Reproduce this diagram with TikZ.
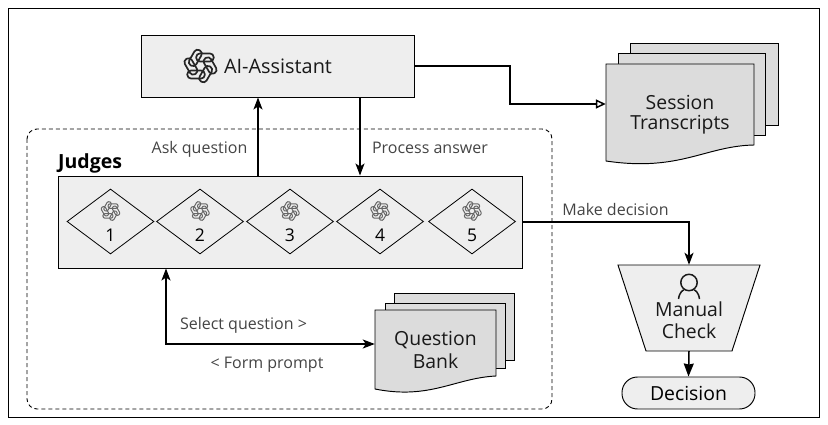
\documentclass[tikz,border=0pt]{standalone}
\usepackage{fontspec}
\setmainfont{Open Sans}
\usetikzlibrary{arrows.meta,shapes.geometric,calc}
\definecolor{boxgray}{HTML}{EEEEEE}
\definecolor{docgray}{HTML}{DCDCDC}
\definecolor{labelgray}{HTML}{444444}
\tikzset{
  boxn/.style={draw=black,line width=.95pt,fill=boxgray,inner sep=0pt},
  judge/.style={diamond,draw=black,line width=.8pt,fill=boxgray,inner sep=0pt,minimum width=87pt,minimum height=65pt,aspect=1.34},
  sheet/.style={draw=black,line width=.95pt,fill=docgray},
  arr/.style={draw=black,line width=1.5pt,-{Stealth[length=12pt,width=9pt,inset=3pt]}},
  solidarr/.style={draw=black,line width=1.5pt,-{Stealth[length=13pt,width=10pt,inset=1pt]}},
  biarr/.style={draw=black,line width=1.5pt,{Stealth[length=12pt,width=9pt,inset=3pt]}-{Stealth[length=12pt,width=9pt,inset=3pt]}},
  openarr/.style={draw=black,line width=1.5pt,-{Triangle[open,length=10pt,width=9pt,fill=white]}},
  lbl/.style={text=labelgray,font=\fontsize{16}{19}\selectfont,inner sep=0pt},
  big/.style={font=\fontsize{19.4}{23}\selectfont,align=center,inner sep=0pt,text=black!90},
}
\newcommand{\logoat}[5]{% x y scale colour lw
  \begin{scope}[shift={(#1,#2)},scale=#3]
    \foreach \a in {0,60,...,300}{
      \draw[rotate=\a,line width=#5,draw=#4,rounded corners={3.4pt*#3}]
        (-4,-4.2) rectangle (12.2,-11.6);
    }
  \end{scope}}
\begin{document}
\begin{tikzpicture}[x=1pt,y=-1pt]
\useasboundingbox (0,0) rectangle (828,425);
\draw[black,line width=.9pt] (8,8) rectangle (819,417);
\draw[black,line width=.9pt,dash pattern=on 4pt off 3pt,rounded corners=10pt] (27,129) rectangle (552,409);

% session transcript sheets
\draw[sheet] (630,43) rectangle (778,125);
\draw[sheet] (618,53) rectangle (765,135);
\draw[sheet] (606,64) -- (754,64) -- (754,145) .. controls (705,146) and (680,172) .. (606,161) -- cycle;
\node[minimum width=148pt,minimum height=80pt,inner sep=0pt] (session) at (680,104) {};
\node[big] (sessionA) at (680,102.5) {Session};
\node[big] (sessionB) at (680,124.5) {Transcripts};

% question bank sheets
\draw[sheet] (394,293) rectangle (514,360);
\draw[sheet] (385,303) rectangle (505,368);
\draw[sheet] (375,310) -- (496,310) -- (496,376) .. controls (455,378) and (430,400) .. (375,389) -- cycle;
\node[minimum width=121pt,minimum height=68pt,inner sep=0pt] (bank) at (435.5,344) {};
\node[big] (bankA) at (435.5,340) {Question};
\node[big] (bankB) at (435.5,361) {Bank};

% assistant
\node[boxn,minimum width=273pt,minimum height=62pt] (ai) at (277.5,66) {};
\logoat{200.5}{66}{1.08}{black!85}{1.7pt}
\node[big,font=\fontsize{19.9}{23}\selectfont] (ailabel) at (278,66) {AI-Assistant};

% judges
\node[boxn,minimum width=464pt,minimum height=92pt] (judges) at (290,222) {};
\node[font=\bfseries\fontsize{19.5}{22}\selectfont,inner sep=0pt,anchor=west] (jlabel) at (58,163.5) {Judges};
\foreach \n/\cx in {1/110.5,2/200,3/290,4/380,5/472}{
  \node[judge] (j\n) at (\cx,221.5) {};
  \logoat{\cx}{211}{.62}{black!60}{1pt}
  \node[font=\fontsize{17.5}{20}\selectfont,inner sep=0pt] (n\n) at (\cx,235) {\n};
}

% manual check
\draw[draw=black,line width=.95pt,fill=boxgray] (618,265) -- (760,265) -- (732,351) -- (646,351) -- cycle;
\node[minimum width=142pt,minimum height=86pt,inner sep=0pt] (manual) at (689,308) {};
\draw[black!90,line width=1.5pt] (689,282.5) circle (8.2pt);
\draw[black!90,line width=1.5pt] (678.5,299) .. controls (679.5,292) and (683,290) .. (684,290);
\draw[black!90,line width=1.5pt] (699.5,299) .. controls (698.5,292) and (695,290) .. (694,290);
\node[big] (manA) at (689,309) {Manual};
\node[big] (manB) at (689,331) {Check};

% decision
\node[draw=black,line width=.95pt,fill=boxgray,rounded corners=15.5pt,minimum width=133pt,minimum height=32pt,inner sep=0pt,
  font=\fontsize{19.4}{23}\selectfont] (decision) at (688.5,393) {Decision};

% connector helper points
\coordinate (askx) at (258,0);
\coordinate (procx) at (360,0);
\coordinate (selx) at (166,0);
\coordinate (bendS) at (510,0);

\draw[arr] (judges.north -| askx) -- (ai.south -| askx);
\draw[arr] (ai.south -| procx) -- (judges.north -| procx);
\draw[openarr] (ai.east) -- (ai.east -| bendS) -- (session.west -| bendS) -- (session.west);
\draw[arr] (judges.east) -- (judges.east -| manual.north) -- (manual.north);
\draw[solidarr] (manual.south) -- (decision.north);
\draw[biarr] (judges.south -| selx) -- (bank.west -| selx) -- (bank.west);

% labels
\node[lbl] (l1) at (199.5,149) {Ask question};
\node[lbl] (l2) at (430,148) {Process answer};
\node[lbl] (l3) at (615.5,209) {Make decision};
\node[lbl] (l4) at (243.5,325.5) {Select question >};
\node[lbl] (l5) at (267,365) {< Form prompt};
\end{tikzpicture}
\end{document}
